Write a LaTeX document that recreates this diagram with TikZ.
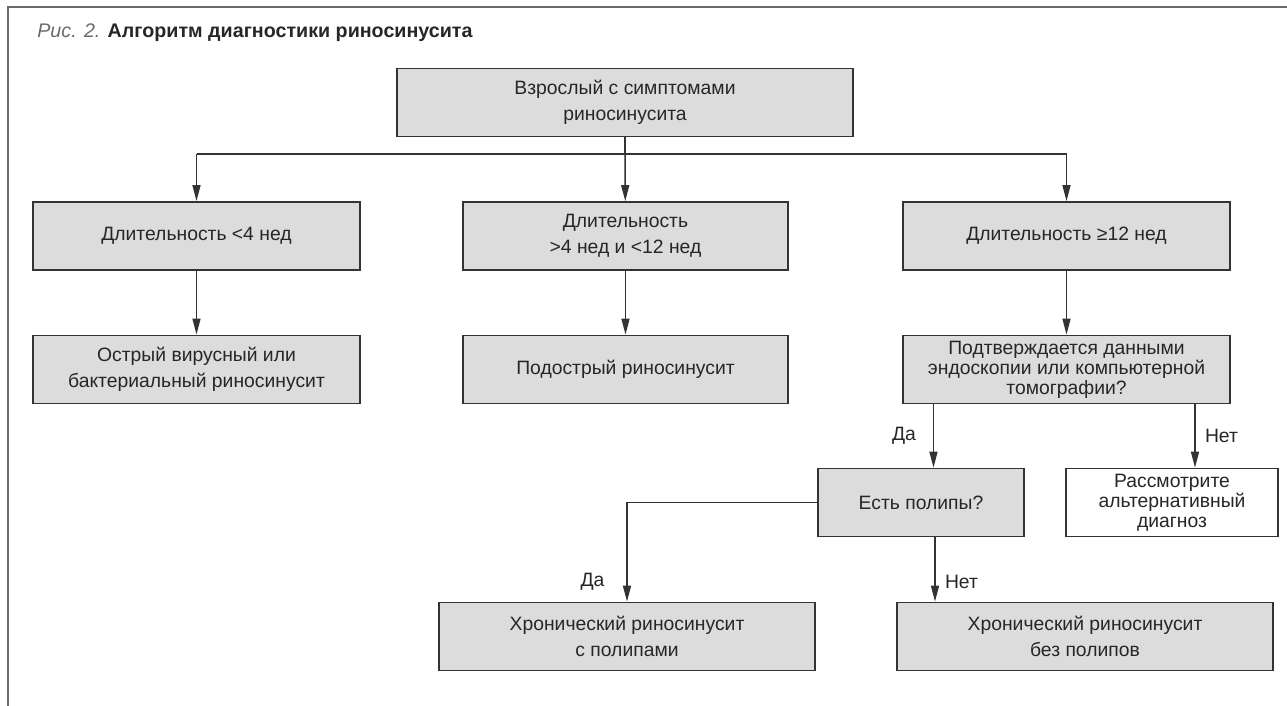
\documentclass[tikz,border=0pt]{standalone}
\usepackage{fontspec}
\setmainfont{Liberation Sans}
\usetikzlibrary{arrows.meta, positioning, calc}
\definecolor{boxfill}{HTML}{DCDCDC}
\definecolor{boxline}{HTML}{333333}
\definecolor{ink}{HTML}{262626}
\definecolor{framegray}{HTML}{6A6A6A}

\begin{document}
\begin{tikzpicture}[
        box/.style={rectangle, draw=boxline, fill=boxfill, line width=1pt,
            minimum height=13.6mm, align=center, inner sep=2pt, text=ink,
            font=\fontsize{11}{14.5}\selectfont},
        tight/.style={font=\fontsize{11}{11.4}\selectfont},
        whitebox/.style={box, fill=white},
        lbl/.style={font=\fontsize{11}{13}\selectfont, text=ink, inner sep=1pt},
        line/.style={draw=boxline, line width=0.85pt},
        arr/.style={line, -{Triangle[length=3.2mm, width=1.6mm]}},
        every edge/.style={arr},
    ]
    \useasboundingbox (0,0) rectangle (25.74,14.12);

    % frame and caption
    \draw[framegray, line width=1.2pt] (0.16,0) -- (0.16,13.98) -- (25.74,13.98);
    \node[anchor=west, inner sep=0pt, text=ink, font=\fontsize{11.2}{13}\selectfont]
        (title) at (0.74,13.46) {{\itshape\color{framegray}Рис. 2.} \bfseries Алгоритм диагностики риносинусита};

    % boxes
    \node[box, minimum width=91.2mm] (adult) at (12.5,12.07) {Взрослый с симптомами\\риносинусита};

    \node[box, minimum width=65.4mm] (lt4) at (3.93,9.4) {Длительность <4 нед};
    \node[box, minimum width=65mm] (mid) at (12.51,9.4) {Длительность\\>4 нед и <12 нед};
    \node[box, minimum width=65.4mm] (gt12) at (21.33,9.4) {Длительность ≥12 нед};

    \node[box, minimum width=65.4mm] (acute) at (3.93,6.73) {Острый вирусный или\\бактериальный риносинусит};
    \node[box, minimum width=65mm] (subacute) at (12.51,6.73) {Подострый риносинусит};
    \node[box, tight, minimum width=65.4mm] (confirm) at (21.33,6.73) {Подтверждается данными\\эндоскопии или компьютерной\\томографии?};

    \node[box, minimum width=41.2mm] (polyps) at (18.42,4.07) {Есть полипы?};
    \node[whitebox, tight, minimum width=42.4mm] (altdx) at (23.44,4.07) {Рассмотрите\\альтернативный\\диагноз};

    \node[box, minimum width=75.2mm] (withpol) at (12.54,1.39) {Хронический риносинусит\\с полипами};
    \node[box, minimum width=75.2mm] (nopol) at (21.7,1.39) {Хронический риносинусит\\без полипов};

    % connectors
    \coordinate (split) at (12.5,11.04);
    \draw[line] (adult) -- (split);
    \draw[line] (lt4 |- split) -- (gt12 |- split);
    \draw (lt4 |- split) edge (lt4) (split) edge (mid) (gt12 |- split) edge (gt12);

    \draw (lt4) edge (acute) (mid) edge (subacute) (gt12) edge (confirm);

    \draw ([xshift=2.5mm]polyps.north |- confirm.south) edge node[lbl, left=3mm] {Да} ([xshift=2.5mm]polyps.north);
    \draw ([xshift=4.6mm]altdx.north |- confirm.south) edge node[lbl, right=1.5mm] {Нет} ([xshift=4.6mm]altdx.north);

    \draw[arr] (polyps.west) -| node[lbl, pos=0.9, left=4mm] {Да} (withpol.north);
    \draw ([xshift=2.8mm]polyps.south) edge node[lbl, pos=0.7, right=1.5mm] {Нет} ([xshift=2.8mm]polyps.south |- nopol.north);
\end{tikzpicture}
\end{document}
